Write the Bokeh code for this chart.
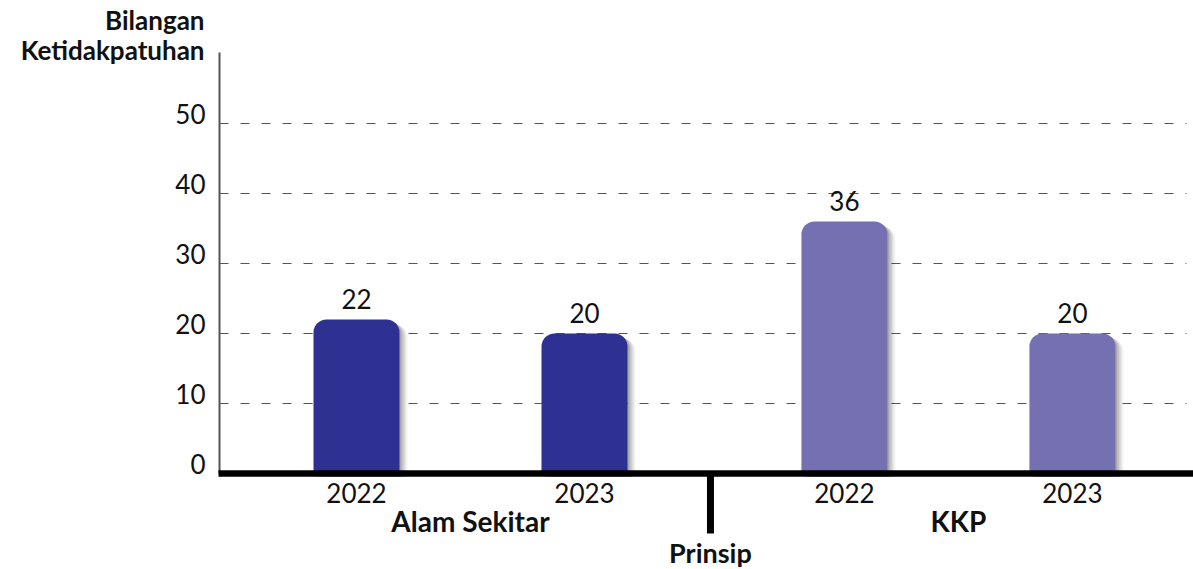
from bokeh.plotting import figure
from bokeh.models import Range1d, ColumnDataSource
from bokeh.core.properties import value
from bokeh.transform import dodge
from bokeh.embed import file_html
from bokeh.resources import INLINE

# ---- data ----
groups = ["Alam Sekitar", "KKP"]
years = ["2022", "2023"]
counts = [22, 20, 36, 20]
group_colors = ["#2E3192", "#7570B1"]
y_ticks = [0, 10, 20, 30, 40, 50]
y_title_lines = ["Bilangan", "Ketidakpatuhan"]
x_title = "Prinsip"

# ---- layout constants (pixels) ----
W, H = 1193, 569
PX_X = 228.0          # pixels per x unit (bar spacing inside a group)
PX_Y = 7.0            # pixels per count
ORIGIN_X, ORIGIN_Y = 356, 473   # pixel position of first bar centre / zero line
AXIS_PX = 219
GRID_END_PX = 1186
SEP_SHIFT_PX = -4
Y_AXIS_TOP = 60
GROUP_GAP = 0.14
FONT = "Lato"
BASE_SHIFT = 0.4      # alphabetic baseline correction (fraction of font size)

x_start = -ORIGIN_X / PX_X
x_end = x_start + W / PX_X
y_top = ORIGIN_Y / PX_Y
y_bottom = -(H - ORIGIN_Y) / PX_Y
axis_x = x_start + AXIS_PX / PX_X
grid_end = x_start + GRID_END_PX / PX_X


def off(px, size):
    return px - BASE_SHIFT * size


xs, bar_colors, year_labels = [], [], []
group_x = []
for gi, g in enumerate(groups):
    pos = []
    for si, yr in enumerate(years):
        x = gi * (len(years) + GROUP_GAP) + si
        xs.append(x)
        pos.append(x)
        bar_colors.append(group_colors[gi])
        year_labels.append(yr)
    group_x.append(sum(pos) / len(pos))
sep_x = (xs[len(years) - 1] + xs[len(years)]) / 2 + SEP_SHIFT_PX / PX_X

src = ColumnDataSource(dict(x=xs, top=counts, color=bar_colors,
                            label=[str(c) for c in counts], year=year_labels))

p = figure(width=W, height=H, x_range=Range1d(x_start, x_end),
           y_range=Range1d(y_bottom, y_top), output_backend="svg",
           toolbar_location=None, x_axis_location=None, y_axis_location=None,
           min_border=0)
p.outline_line_color = None
p.background_fill_color = "white"
p.border_fill_color = "white"
p.grid.visible = False

# horizontal dashed grid lines
grid_vals = [t for t in y_ticks if t > 0]
p.segment(x0=[axis_x] * len(grid_vals), y0=grid_vals, x1=[grid_end] * len(grid_vals),
          y1=grid_vals, line_color="#555555", line_width=1, line_dash="9 12")

# y axis line and tick labels
p.segment(x0=[axis_x], y0=[0], x1=[axis_x], y1=[Y_AXIS_TOP + 1 / PX_Y],
          line_color="#555555", line_width=2)
p.text(x=[axis_x - 14 / PX_X] * len(y_ticks), y=y_ticks, text=[str(t) for t in y_ticks],
       y_offset=off(1, 26), text_align="right", text_baseline="alphabetic",
       text_font=value(FONT), text_font_size="26px", text_color="#111111")

# y title
p.text(x=[axis_x - 15 / PX_X] * 2, y=[Y_AXIS_TOP] * 2, text=y_title_lines,
       y_offset=[off(-23, 26), off(7, 26)], text_align="right",
       text_baseline="alphabetic", text_font=value(FONT), text_font_size="26px",
       text_font_style="bold", text_color="#111111")

# shadows
bw = 86 / PX_X
R = (13, 13, 0, 0)
for dx, dy, a in [(2, 2, 0.13), (4, 3, 0.11), (6, 4, 0.09), (8, 5, 0.05)]:
    p.vbar(x=dodge("x", dx / PX_X, range=p.x_range),
           top=dodge("top", -dy / PX_Y, range=p.y_range),
           bottom=-0.5, width=bw, source=src, fill_color="black",
           fill_alpha=a, line_color=None, border_radius=R)

# bars
p.vbar(x="x", top="top", bottom=0, width=bw, source=src, fill_color="color",
       line_color=None, border_radius=R)

# value labels
p.text(x="x", y="top", text="label", source=src, y_offset=off(-10, 26),
       text_align="center", text_baseline="alphabetic",
       text_font=value(FONT), text_font_size="26px", text_color="#111111")

# baseline and separator
p.segment(x0=[axis_x - 1 / PX_X], y0=[0], x1=[x_end], y1=[0], line_color="black",
          line_width=6.5)
p.segment(x0=[sep_x], y0=[0], x1=[sep_x], y1=[-60 / PX_Y], line_color="black",
          line_width=7, line_cap="butt")

# category labels
p.text(x="x", y=0, text="year", source=src, y_offset=off(30, 26), text_align="center",
       text_baseline="alphabetic", text_font=value(FONT), text_font_size="26px",
       text_color="#111111")
p.text(x=group_x, y=[0] * len(groups), text=groups, y_offset=off(59, 28),
       text_align="center", text_baseline="alphabetic", text_font=value(FONT),
       text_font_size="28px", text_font_style="bold", text_color="#111111")
p.text(x=[sep_x], y=[0], text=[x_title], y_offset=off(90, 27), text_align="center",
       text_baseline="alphabetic", text_font=value(FONT), text_font_size="27px",
       text_font_style="bold", text_color="#111111")

open("out.html", "w").write(file_html(p, INLINE))
